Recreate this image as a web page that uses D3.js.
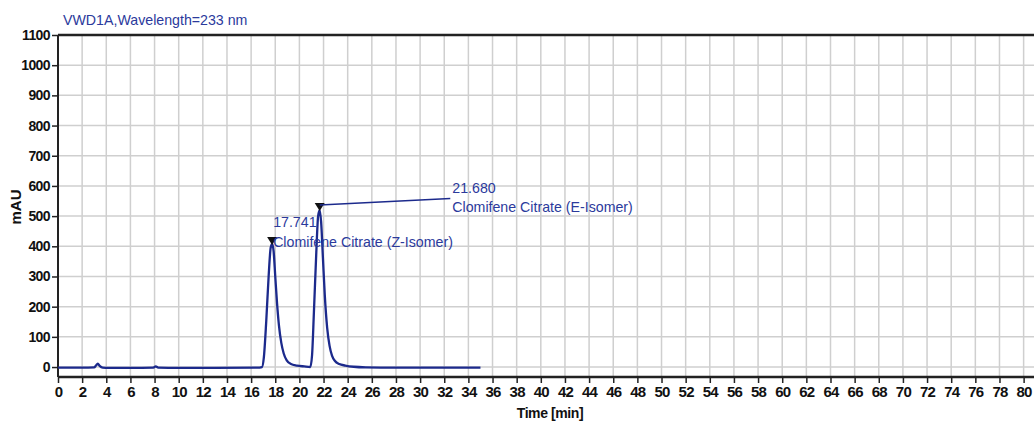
<!DOCTYPE html>
<html><head><meta charset="utf-8">
<script src="https://cdn.jsdelivr.net/npm/d3@7"></script>
<style>
html,body{margin:0;padding:0;background:#fff;}
svg{display:block;}
text{font-family:"Liberation Sans",Arial,sans-serif;}
</style></head>
<body>
<svg id="c" width="1034" height="421"></svg>
<script>
// ---- data ----
const title = "VWD1A,Wavelength=233 nm";
const xLabel = "Time [min]";
const yLabel = "mAU";
const xTicks = d3.range(0, 81, 2);
const yTicks = [0,100,200,300,400,500,600,700,800,900,1000,1100];
const traceTime = [0, 1.0, 2.0, 3.0, 3.15, 3.3, 3.45, 3.7, 4.2, 6.0, 7.9, 8.1, 8.3, 10, 13, 16.5, 16.9, 17.05, 17.25, 17.45, 17.62, 17.741, 17.86, 18.0, 18.15, 18.3, 18.5, 18.7, 18.95, 19.3, 19.8, 20.4, 20.9, 21.05, 21.2, 21.4, 21.55, 21.68, 21.8, 21.95, 22.1, 22.3, 22.5, 22.7, 22.95, 23.3, 23.8, 24.5, 25.5, 28, 31, 35];
const traceValue = [-2, -2, -2, -1, 5, 11, 4, -2, -3, -3, -2, 2, -2, -3, -3, -2, 0, 30, 150, 300, 395, 408, 385, 300, 210, 140, 80, 45, 22, 10, 5, 2, 0, 40, 180, 380, 500, 520, 480, 360, 240, 130, 70, 38, 20, 10, 5, 1, -1, -2, -2, -2];
const peakTimes = [17.741, 21.680];
const peakHeights = [408, 520];
const peakRT = ["17.741", "21.680"];
const peakNames = ["Clomifene Citrate (Z-Isomer)", "Clomifene Citrate (E-Isomer)"];

// ---- layout ----
const W = 1034, H = 421;
const svg = d3.select("#c");
const x = d3.scaleLinear().domain([0, 80.86]).range([58, 1034]);
const y = d3.scaleLinear().domain([-33, 1100]).range([377, 35]);
const navy = "#1c2a8c", txtBlue = "#2b3a9c";
const tickFont = "'Liberation Sans Narrow','Liberation Sans',Arial,sans-serif";

// grid
svg.append("g").selectAll("line.v").data(xTicks.filter(d=>d>0)).join("line")
  .attr("x1", d=>x(d)).attr("x2", d=>x(d)).attr("y1", y(1100)).attr("y2", y(-33))
  .attr("stroke", "#cfcfcf").attr("stroke-width", 1.5);
svg.append("g").selectAll("line.h").data(yTicks.filter(d=>d<1100)).join("line")
  .attr("x1", x(0)).attr("x2", W).attr("y1", d=>y(d)).attr("y2", d=>y(d))
  .attr("stroke", "#cfcfcf").attr("stroke-width", 1.5);

// axes
const yAxis = d3.axisLeft(y).tickValues(yTicks).tickSize(6).tickPadding(2).tickFormat(d3.format("d"));
const gy = svg.append("g").attr("transform", `translate(${x(0)},0)`).call(yAxis);
gy.select(".domain").remove();
gy.selectAll(".tick line").attr("stroke", "#222").attr("stroke-width", 1.5);
gy.selectAll(".tick text").attr("font-size", 14).attr("fill", "#111")
  .attr("font-family", tickFont).attr("font-weight", "bold").attr("letter-spacing", -0.6);

const xAxis = d3.axisBottom(x).tickValues(xTicks).tickSize(6).tickPadding(3).tickFormat(d3.format("d"));
const gx = svg.append("g").attr("transform", `translate(0,${y(-33)})`).call(xAxis);
gx.select(".domain").remove();
gx.selectAll(".tick line").attr("stroke", "#222").attr("stroke-width", 1.5);
gx.selectAll(".tick text").attr("font-size", 15).attr("fill", "#111")
  .attr("font-family", tickFont).attr("font-weight", "bold").attr("letter-spacing", -0.8);

// frame lines
svg.append("line").attr("x1", x(0)).attr("x2", W).attr("y1", y(1100)).attr("y2", y(1100))
  .attr("stroke", "#222").attr("stroke-width", 2.5);
svg.append("line").attr("x1", x(0)).attr("x2", W).attr("y1", y(-33)).attr("y2", y(-33))
  .attr("stroke", "#222").attr("stroke-width", 2.5);
svg.append("line").attr("x1", x(0)).attr("x2", x(0)).attr("y1", y(1100)).attr("y2", y(-33))
  .attr("stroke", "#222").attr("stroke-width", 2);

// trace
const pts = traceTime.map((t,i)=>[t, traceValue[i]]);
svg.append("path").datum(pts)
  .attr("d", d3.line().x(d=>x(d[0])).y(d=>y(d[1])).curve(d3.curveMonotoneX))
  .attr("fill", "none").attr("stroke", navy).attr("stroke-width", 2.3);

// peak markers
peakTimes.forEach((t,i)=>{
  const px = x(t), py = y(peakHeights[i]) - 1;
  svg.append("path").attr("d", `M${px-5},${py-6}L${px+5},${py-6}L${px},${py+2}Z`).attr("fill", "#111");
});

// peak 1 labels
const annSize = 14.2;
const p1x = x(peakTimes[0]);
svg.append("text").attr("x", p1x + 1).attr("y", y(465)).attr("font-size", annSize).attr("fill", txtBlue).text(peakRT[0]);
svg.append("text").attr("x", p1x + 1).attr("y", y(398)).attr("font-size", annSize).attr("fill", txtBlue).text(peakNames[0]);

// peak 2 leader + labels
const p2x = x(peakTimes[1]), p2y = y(peakHeights[1]) - 5;
const lx = x(32.5), ly = y(558);
svg.append("line").attr("x1", p2x).attr("y1", p2y).attr("x2", lx).attr("y2", ly)
  .attr("stroke", navy).attr("stroke-width", 1.5);
svg.append("text").attr("x", lx + 2).attr("y", y(577)).attr("font-size", annSize).attr("fill", txtBlue).text(peakRT[1]);
svg.append("text").attr("x", lx + 2).attr("y", y(513)).attr("font-size", annSize).attr("fill", txtBlue).text(peakNames[1]);

// titles
svg.append("text").attr("x", 63).attr("y", 25).attr("font-size", 14.2).attr("fill", txtBlue).text(title);
svg.append("text").attr("x", 550).attr("y", 418).attr("text-anchor", "middle").attr("font-size", 14)
  .attr("font-family", tickFont).attr("font-weight", "bold").attr("letter-spacing", -0.4)
  .attr("fill", "#111").text(xLabel);
svg.append("text").attr("transform", "translate(21,207) rotate(-90)").attr("text-anchor", "middle")
  .attr("font-size", 15).attr("font-weight", "bold").attr("fill", "#111").text(yLabel);
</script>
</body></html>
